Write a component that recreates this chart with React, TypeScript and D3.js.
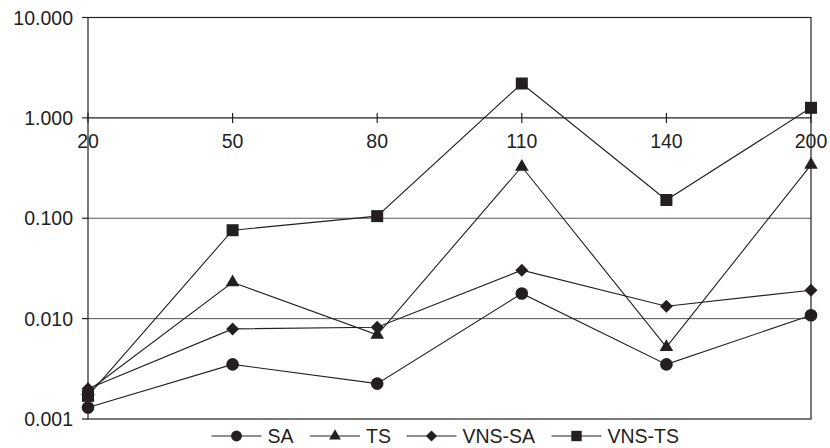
import React from "react";
import * as d3 from "d3";

// Problem sizes on the x axis
const categories = ["20", "50", "80", "110", "140", "200"];

// Run times per method (log scale)
const saValues = [0.0013, 0.0035, 0.00225, 0.0178, 0.0035, 0.0108];
const tsValues = [0.0019, 0.023, 0.0069, 0.326, 0.0052, 0.34];
const vnsSaValues = [0.002, 0.0079, 0.0082, 0.0304, 0.0133, 0.0192];
const vnsTsValues = [0.0017, 0.076, 0.105, 2.2, 0.152, 1.26];

const seriesNames = ["SA", "TS", "VNS-SA", "VNS-TS"];
const seriesSymbols = ["circle", "triangle", "diamond", "square"];
const yTickValues = [0.001, 0.01, 0.1, 1, 10];
const yTickLabels = ["0.001", "0.010", "0.100", "1.000", "10.000"];

const W = 830;
const H = 448;
const left = 88;
const right = 811;
const top = 17.5;
const bottom = 419;
const ink = "#231f20";
const font = "'Liberation Sans', Arial, sans-serif";

function symbolPath(kind: string, scale = 1): { d: string; rotate: number } {
  if (kind === "circle") return { d: d3.symbol(d3.symbolCircle, 125 * scale)()!, rotate: 0 };
  if (kind === "triangle") return { d: d3.symbol(d3.symbolTriangle, 80 * scale)()!, rotate: 0 };
  if (kind === "diamond") return { d: d3.symbol(d3.symbolSquare, 84 * scale)()!, rotate: 45 };
  return { d: d3.symbol(d3.symbolSquare, 144 * scale)()!, rotate: 0 };
}

export default function App() {
  const x = d3.scalePoint<string>().domain(categories).range([left, right]);
  const y = d3.scaleLog().domain([0.001, 10]).range([bottom, top]);
  const all = [saValues, tsValues, vnsSaValues, vnsTsValues];

  const line = d3
    .line<number>()
    .x((_, i) => x(categories[i])!)
    .y((v) => y(v));

  const axisY = y(1);

  // legend layout
  const legendY = 436;
  const legendStarts = [211.5, 310, 406.5, 551.5];

  return (
    <svg
      width={W}
      height={H}
      style={{ position: "absolute", left: 0, top: 0, background: "#fff" }}
      fontFamily={font}
    >
      {/* horizontal gridlines */}
      {[0.01, 0.1].map((v) => (
        <line key={v} x1={left} x2={right} y1={y(v)} y2={y(v)} stroke="#555" strokeWidth={1} />
      ))}
      {/* plot frame */}
      <rect x={left} y={top} width={right - left} height={bottom - top} fill="none" stroke={ink} strokeWidth={1.2} />
      {/* y ticks and labels */}
      {yTickValues.map((v, i) => (
        <g key={v}>
          <line x1={left - 6} x2={left} y1={y(v)} y2={y(v)} stroke={ink} strokeWidth={1.2} />
          <text
            x={73}
            y={y(v)}
            textAnchor="end"
            dominantBaseline="central"
            fontSize={19.5}
            fill={ink}
          >
            {yTickLabels[i]}
          </text>
        </g>
      ))}
      {/* x axis crossing at 1 */}
      <line x1={left} x2={right} y1={axisY} y2={axisY} stroke={ink} strokeWidth={1.2} />
      {categories.map((c) => (
        <g key={c}>
          <line x1={x(c)} x2={x(c)} y1={axisY - 5} y2={axisY + 5} stroke={ink} strokeWidth={1.2} />
          <text
            x={x(c)}
            y={axisY + 23}
            textAnchor="middle"
            dominantBaseline="central"
            fontSize={19.5}
            fill={ink}
          >
            {c}
          </text>
        </g>
      ))}
      {/* series */}
      {all.map((vals, si) => (
        <g key={seriesNames[si]}>
          <path d={line(vals)!} fill="none" stroke={ink} strokeWidth={1.1} />
          {vals.map((v, i) => {
            const s = symbolPath(seriesSymbols[si]);
            return (
              <path
                key={i}
                d={s.d}
                fill={ink}
                transform={`translate(${x(categories[i])},${y(v)}) rotate(${s.rotate})`}
              />
            );
          })}
        </g>
      ))}
      {/* legend */}
      {seriesNames.map((name, si) => {
        const x0 = legendStarts[si];
        const s = symbolPath(seriesSymbols[si], 0.75);
        return (
          <g key={name}>
            <line x1={x0} x2={x0 + 50} y1={legendY} y2={legendY} stroke={ink} strokeWidth={1.1} />
            <path d={s.d} fill={ink} transform={`translate(${x0 + 25},${legendY}) rotate(${s.rotate})`} />
            <text x={x0 + 56} y={legendY} dominantBaseline="central" fontSize={19.5} fill={ink}>
              {name}
            </text>
          </g>
        );
      })}
    </svg>
  );
}
